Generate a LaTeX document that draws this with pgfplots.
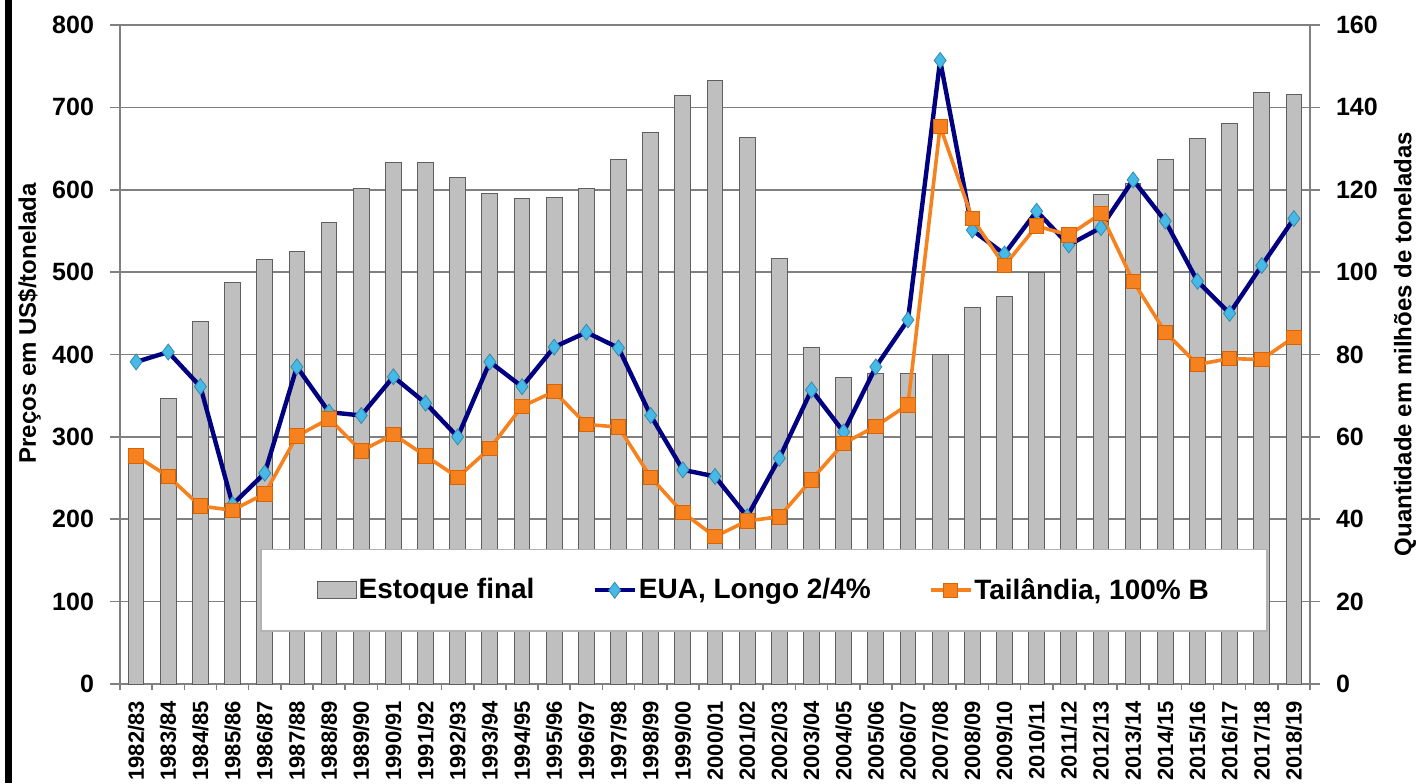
\documentclass[border=0pt]{standalone}
\usepackage{fontspec}
\setmainfont{Liberation Sans}
\usepackage{pgfplots}
\usepackage{pgfplotstable}
\pgfplotsset{compat=1.18}
\definecolor{bargray}{RGB}{191,191,191}
\definecolor{baredge}{RGB}{95,95,95}
\definecolor{navyc}{RGB}{0,0,128}
\definecolor{lblue}{RGB}{70,185,230}
\definecolor{orng}{RGB}{245,130,30}
\definecolor{orngdk}{RGB}{220,100,0}
\definecolor{gridc}{RGB}{128,128,128}

\pgfplotstableread{
idx label stock eua thai
0 1982/83 55 391 277
1 1983/84 69.4 403 252
2 1984/85 87.9 361 216
3 1985/86 97.6 218 211
4 1986/87 103 256 231
5 1987/88 105 385 301
6 1988/89 112 330 322
7 1989/90 120.4 326 283
8 1990/91 126.7 373 303
9 1991/92 126.7 341 277
10 1992/93 123 300 251
11 1993/94 119 391 286
12 1994/95 117.8 361 337
13 1995/96 118 409 355
14 1996/97 120.4 427 315
15 1997/98 127.4 408 312
16 1998/99 134 326 251
17 1999/00 142.8 260 208
18 2000/01 146.6 252 179
19 2001/02 132.8 203 198
20 2002/03 103.2 274 203
21 2003/04 81.6 357 248
22 2004/05 74.3 306 292
23 2005/06 75.5 385 313
24 2006/07 75.5 442 339
25 2007/08 80 757 677
26 2008/09 91.3 551 565
27 2009/10 94.2 522 508
28 2010/11 100 574 556
29 2011/12 108 533 545
30 2012/13 118.8 554 571
31 2013/14 121.5 612 489
32 2014/15 127.4 562 427
33 2015/16 132.4 489 388
34 2016/17 136.2 450 395
35 2017/18 143.6 508 394
36 2018/19 143.2 565 421
}\data

\begin{document}
\begin{tikzpicture}
\path[use as bounding box] (0,0) rectangle (708pt,391.5pt);
\fill[black] (2.5pt,0) rectangle (6pt,391.5pt);
% right axis with bars
\begin{axis}[
  at={(60pt,49.5pt)}, anchor=south west, scale only axis,
  width=595pt, height=329.5pt,
  xmin=-0.5, xmax=36.5, ymin=0, ymax=160,
  axis line style={gridc, line width=0.8pt},
  xtick={0,...,36}, xticklabels from table={\data}{label},
  xtick pos=bottom,
  x tick label style={rotate=90, anchor=east, yshift=0pt, font=\fontsize{11}{11}\selectfont\bfseries},
  major x tick style={draw=none},
  minor xtick={-0.5,0.5,...,36.5},
  minor x tick style={gridc, line width=0.8pt},
  ytick={0,20,...,160}, ytick pos=right, yticklabel pos=right,
  y tick label style={font=\fontsize{12.5}{12.5}\selectfont\bfseries, xshift=4.5pt},
  /pgf/number format/assume math mode=true,
  ymajorgrids, grid style={gridc, line width=0.8pt},
  tick align=outside, major tick length=5pt, minor tick length=3pt,
  major y tick style={gridc, line width=0.8pt},
  ylabel={Quantidade em milhões de toneladas},
  ylabel style={at={(axis description cs:1.0798,0.516)}, anchor=center, font=\fontsize{12}{12}\selectfont\bfseries},
]
\addplot[ybar, bar width=0.49, fill=bargray, draw=baredge, line width=0.5pt] table[x=idx,y=stock]{\data};
\end{axis}
% left axis with lines
\begin{axis}[
  at={(60pt,49.5pt)}, anchor=south west, scale only axis,
  width=595pt, height=329.5pt,
  xmin=-0.5, xmax=36.5, ymin=0, ymax=800,
  hide x axis,
  axis y line*=left,
  axis line style={gridc, line width=0.8pt},
  ytick={0,100,...,800},
  y tick label style={font=\fontsize{12.5}{12.5}\selectfont\bfseries, xshift=-4.5pt},
  /pgf/number format/assume math mode=true,
  tick align=outside, major tick length=5pt,
  major y tick style={gridc, line width=0.8pt},
  ylabel={Preços em US\$/tonelada},
  ylabel style={at={(axis description cs:-0.076,0.547)}, anchor=center, font=\fontsize{12}{12}\selectfont\bfseries},
  legend image code/.code={\draw[mark repeat=2,mark phase=2,#1] plot coordinates {(0pt,0pt)(10pt,0pt)(20pt,0pt)};},
  legend columns=3,
  legend style={
    at={(0.1176,0.0789)}, anchor=south west,
    draw=gray!60, fill=white, line width=0.8pt,
    inner xsep=28pt, inner ysep=12.5pt,
    font=\fontsize{14}{16}\selectfont\bfseries,
    nodes={inner xsep=1pt, inner ysep=2pt},
    /tikz/every even column/.append style={column sep=28pt},
  },
]
\addlegendimage{legend image code/.code={\draw[fill=bargray,draw=baredge,line width=0.5pt] (0pt,-4.25pt) rectangle (19.5pt,4.25pt);}}
\addlegendentry{Estoque final}
\addplot[navyc, line width=2.2pt, line join=round, mark=diamond*, mark size=4pt, mark options={fill=lblue, draw=lblue!75!black, line width=0.4pt, line join=miter}] table[x=idx,y=eua]{\data};
\addlegendentry{EUA, Longo 2/4\%}
\addplot[orng, line width=1.8pt, line join=round, mark=square*, mark size=3.6pt, mark options={fill=orng, draw=orngdk, line width=0.4pt, line join=miter}] table[x=idx,y=thai]{\data};
\addlegendentry{Tailândia, 100\% B}
\end{axis}
\end{tikzpicture}
\end{document}
